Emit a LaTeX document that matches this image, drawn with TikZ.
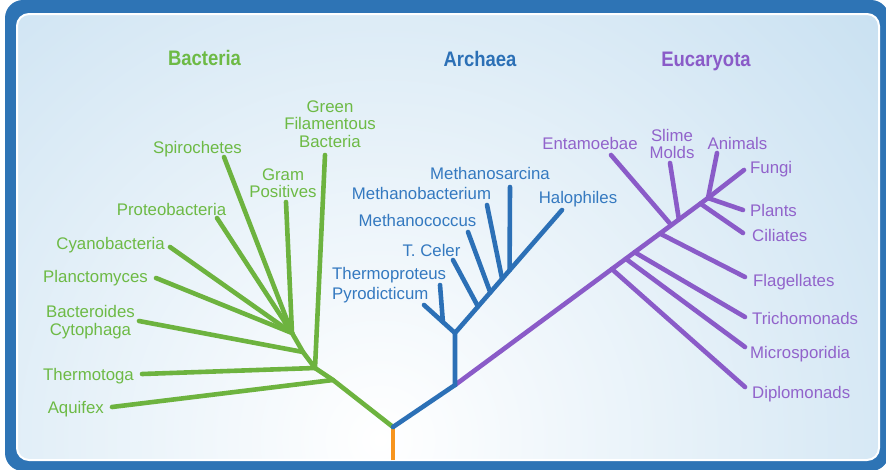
\documentclass[tikz,border=0pt]{standalone}
\usepackage{fontspec}
\setmainfont{Liberation Sans}
\newfontfamily\condfont{Liberation Sans}[FakeStretch=0.88]
\usetikzlibrary{calc}

\definecolor{frameblue}{HTML}{2E74B5}
\definecolor{skyedge}{HTML}{9DC8E6}
\definecolor{bactline}{HTML}{6DB33F}
\definecolor{bacttext}{HTML}{6DBA45}
\definecolor{archline}{HTML}{2C70B6}
\definecolor{archtext}{HTML}{3479C0}
\definecolor{eucline}{HTML}{8A5BC8}
\definecolor{euctext}{HTML}{9163CB}
\definecolor{rootorange}{HTML}{F7941D}

\begin{document}
\begin{tikzpicture}[
    x=1pt, y=-1pt,
    lbl/.style={inner sep=0pt, text height=12pt, text depth=0pt,
                font=\fontsize{16.8}{17.5}\selectfont, text=#1},
    multi/.style={inner sep=0pt, align=center,
                  font=\fontsize{16.8}{17.5}\selectfont, text=#1},
    domain/.style={inner sep=0pt, text height=15pt, text depth=0pt, text=#1,
                   font=\condfont\bfseries\fontsize{21}{24}\selectfont},
    branch/.style={line width=4.6pt, line cap=round, draw=#1}
  ]

  \useasboundingbox (0,0) rectangle (886,469);
  \fill[frameblue, rounded corners=18pt] (5,0) rectangle (889,471);
  \begin{scope}
    \clip[rounded corners=12pt] (17,14) rectangle (879,460);
    \shade[inner color=white, outer color=skyedge] (380,440) circle (1200);
  \end{scope}
  \draw[white, line width=2pt, rounded corners=12pt] (17,14) rectangle (879,460);

  \node[domain=bacttext]  (bacteria)  at (204.5,58) {Bacteria};
  \node[domain=archline]  (archaea)   at (480,59)   {Archaea};
  \node[domain=eucline]   (eucaryota) at (706,59)   {Eucaryota};

  % joints and tips
  \coordinate (base) at (393,460);
  \coordinate (root) at (393,427);

  \coordinate (gA) at (333,380);
  \coordinate (gT) at (315,368);
  \coordinate (gB) at (303,352);
  \coordinate (gC) at (292,333);
  \coordinate (tAquifex)  at (112,407);
  \coordinate (tThermot)  at (142,374);
  \coordinate (tBactero)  at (139,321);
  \coordinate (tPlancto)  at (156,278);
  \coordinate (tCyano)    at (170,247);
  \coordinate (tProteo)   at (217,218);
  \coordinate (tSpiro)    at (224,157);
  \coordinate (tGram)     at (286,202);
  \coordinate (tGreenFil) at (325,155);

  \coordinate (aJ) at (455,385);
  \coordinate (aK) at (455,333);
  \coordinate (tHalo)    at (562,210);
  \coordinate (tPyro)    at (424,305);
  \coordinate (tThermop) at (440,285);
  \coordinate (tCeler)   at (453,260);
  \coordinate (tMcoccus) at (468,232);
  \coordinate (tMbact)   at (487,205);
  \coordinate (tMsarc)   at (510,187);

  \coordinate (eE) at (708,198);
  \coordinate (tDiplo)  at (745,387);
  \coordinate (tMicro)  at (745,347);
  \coordinate (tTricho) at (745,317);
  \coordinate (tFlag)   at (745,277);
  \coordinate (tEntam)  at (611,155);
  \coordinate (tSlime)  at (670,163);
  \coordinate (tCiliat) at (743,233);
  \coordinate (tPlants) at (743,210);
  \coordinate (tAnimal) at (717,153);
  \coordinate (tFungi)  at (744,170);

  % branches
  \draw[branch=rootorange, line cap=butt] (base) -- (root);

  \draw[branch=bactline] (root) -- (gA) -- (gT) -- (gB) -- (gC);
  \foreach \j/\t in {gA/tAquifex, gT/tThermot, gT/tGreenFil, gB/tBactero,
                     gC/tPlancto, gC/tCyano, gC/tProteo, gC/tSpiro, gC/tGram}
    \draw[branch=bactline] (\j) -- (\t);

  \draw[branch=eucline] (aJ) -- (eE);
  \foreach \p/\t in {0.62/tDiplo, 0.675/tMicro, 0.71/tTricho, 0.81/tFlag,
                     0.855/tEntam, 0.885/tSlime, 0.97/tCiliat}
    \draw[branch=eucline] ($(aJ)!\p!(eE)$) -- (\t);
  \foreach \t in {tPlants, tAnimal, tFungi}
    \draw[branch=eucline] (eE) -- (\t);

  \draw[branch=archline] (root) -- (aJ) -- (aK) -- (tHalo);
  \draw[branch=archline] (aK) -- (tPyro);
  \draw[branch=archline] ($(aK)!0.39!(tPyro)$) -- (tThermop);
  \foreach \p/\t in {0.215/tCeler, 0.33/tMcoccus, 0.44/tMbact, 0.51/tMsarc}
    \draw[branch=archline] ($(aK)!\p!(tHalo)$) -- (\t);

  % labels
  \node[lbl=bacttext, anchor=east] (lAquifex) at (104,407) {Aquifex};
  \node[lbl=bacttext, anchor=east] (lThermot) at (134,374) {Thermotoga};
  \node[multi=bacttext, anchor=east] (lBactero) at (135,322) {Bacteroides\\Cytophaga};
  \node[lbl=bacttext, anchor=east] (lPlancto) at (148,276) {Planctomyces};
  \node[lbl=bacttext, anchor=east] (lCyano)   at (165,243) {Cyanobacteria};
  \node[lbl=bacttext] (lProteo) at (171.5,209) {Proteobacteria};
  \node[lbl=bacttext] (lSpiro)  at (197.5,147) {Spirochetes};
  \node[multi=bacttext] (lGram) at (283,183) {Gram\\Positives};
  \node[multi=bacttext] (lGreenFil) at (330,124) {Green\\Filamentous\\Bacteria};

  \node[lbl=archtext] (lMsarc)   at (490,173)   {Methanosarcina};
  \node[lbl=archtext] (lMbact)   at (421.5,193) {Methanobacterium};
  \node[lbl=archtext] (lMcoccus) at (417.5,220) {Methanococcus};
  \node[lbl=archtext] (lCeler)   at (431.5,250) {T. Celer};
  \node[lbl=archtext, anchor=west] (lThermop) at (332,273) {Thermoproteus};
  \node[lbl=archtext, anchor=west] (lPyro)    at (332,293) {Pyrodicticum};
  \node[lbl=archtext] (lHalo)    at (578,197)   {Halophiles};

  \node[lbl=euctext] (lEntam)  at (590,143)   {Entamoebae};
  \node[multi=euctext] (lSlime) at (672,144)  {Slime\\Molds};
  \node[lbl=euctext] (lAnimal) at (737.5,143) {Animals};
  \node[lbl=euctext, anchor=west] (lFungi)  at (750,167) {Fungi};
  \node[lbl=euctext, anchor=west] (lPlants) at (750,210) {Plants};
  \node[lbl=euctext, anchor=west] (lCiliat) at (752,235) {Ciliates};
  \node[lbl=euctext, anchor=west] (lFlag)   at (753,280) {Flagellates};
  \node[lbl=euctext, anchor=west] (lTricho) at (752,318) {Trichomonads};
  \node[lbl=euctext, anchor=west] (lMicro)  at (750,352) {Microsporidia};
  \node[lbl=euctext, anchor=west] (lDiplo)  at (752,392) {Diplomonads};

\end{tikzpicture}
\end{document}
